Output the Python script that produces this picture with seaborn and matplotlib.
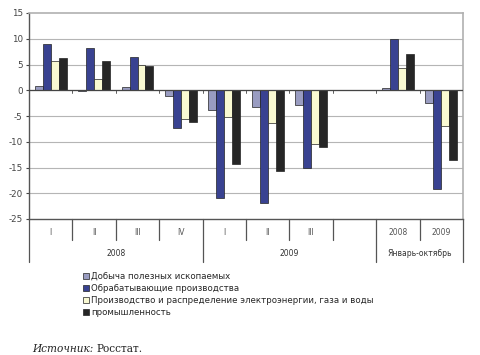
import matplotlib
matplotlib.use("Agg")
import matplotlib.pyplot as plt
import matplotlib.transforms as mtransforms
import seaborn as sns
import pandas as pd

keys = ["2008-I", "2008-II", "2008-III", "2008-IV", "2009-I", "2009-II", "2009-III",
        "gap", "JO-2008", "JO-2009"]
quarter_labels = ["I", "II", "III", "IV", "I", "II", "III", "", "2008", "2009"]
series_names = ["Добыча полезных ископаемых",
                "Обрабатывающие производства",
                "Производство и распределение электроэнергии, газа и воды",
                "промышленность"]
mining = [0.8, -0.2, 0.7, -1.1, -3.8, -3.2, -2.9, 0, 0.5, -2.4]
manufacturing = [8.9, 8.2, 6.5, -7.3, -20.9, -21.8, -15.1, 0, 10.0, -19.1]
utilities = [5.6, 2.1, 5.0, -5.5, -5.1, -6.3, -10.5, 0, 4.3, -6.9]
industry = [6.2, 5.6, 4.8, -6.2, -14.4, -15.6, -11.0, 0, 7.1, -13.5]
groups = [("2008", 0, 4), ("2009", 4, 8), ("Январь-октябрь", 8, 10)]
colors = ["#9296C8", "#2A37A0", "#FFFFCC", "#262626"]

rows = []
for name, vals in zip(series_names, [mining, manufacturing, utilities, industry]):
    for k, v in zip(keys, vals):
        rows.append({"cat": k, "series": name, "value": v})
df = pd.DataFrame(rows)

sns.set_style("white")
plt.rcParams['font.family'] = ['DejaVu Sans']

fig = plt.figure(figsize=(4.8, 3.55), dpi=100)
ax = fig.add_axes([29/480, 1-219/355, (463-29)/480, (219-13)/355])

sns.barplot(data=df, x="cat", y="value", hue="series", order=keys,
            hue_order=series_names, palette=colors, width=0.73,
            edgecolor="#222222", linewidth=0.5, ax=ax, legend=True, errorbar=None,
            zorder=3)

ax.set_ylim(-25, 15)
ax.set_xlim(-0.5, len(keys) - 0.5)
ax.set_yticks(range(-25, 16, 5))
ax.set_yticklabels([str(v) for v in range(-25, 16, 5)], fontsize=6.3, color="#444444")
ax.tick_params(axis="y", length=2.5, width=0.8, color="#444444", pad=2, direction="out", left=True)
ax.set_xticks([])
ax.set_xlabel("")
ax.set_ylabel("")
for yv in range(-20, 15, 5):
    ax.axhline(yv, color="#b5b5b5", lw=0.8, zorder=1)
ax.axhline(0, color="#444444", lw=0.9, zorder=4)
for s in ["top", "right"]:
    ax.spines[s].set_color("#b0b0b0")
    ax.spines[s].set_linewidth(1.2)
ax.spines["left"].set_color("#555555")
ax.spines["left"].set_linewidth(1.0)
ax.spines["bottom"].set_color("#555555")
ax.spines["bottom"].set_linewidth(1.0)

# small ticks on the zero line at category boundaries
for i in range(1, len(keys)):
    ax.plot([i - 0.5, i - 0.5], [0, -0.5], color="#444444", lw=0.6, zorder=4)

# table-like category axis
trans = mtransforms.blended_transform_factory(ax.transData, ax.transAxes)
short_y = -21/206
long_y = -43/206
group_edges = set()
for _, a, b in groups:
    group_edges.add(a)
    group_edges.add(b)
for i in range(len(keys) + 1):
    yb = long_y if i in group_edges else short_y
    ax.plot([i - 0.5, i - 0.5], [0, yb], transform=trans, color="#555555",
            lw=0.9, clip_on=False)
for i, lab in enumerate(quarter_labels):
    ax.text(i, -14/206, lab, transform=trans, ha="center", va="center",
            fontsize=5.5, color="#555555")
for name, a, b in groups:
    ax.text((a + b - 1) / 2, -35/206, name, transform=trans, ha="center",
            va="center", fontsize=5.5, color="#333333")

handles, labels = ax.get_legend_handles_labels()
ax.legend_.remove()
fig.legend(handles, labels, loc="upper left", bbox_to_anchor=(83/480, 1-272/355),
           frameon=False, fontsize=6.2, handlelength=0.7, handleheight=0.7,
           handletextpad=0.2, labelspacing=0.35, borderpad=0, borderaxespad=0)

t1 = fig.text(32/480, 1-349/355, "Источник:", fontsize=7.6, family="DejaVu Serif",
              style="italic", va="center", ha="left", color="#222222")
fig.canvas.draw()
bb = t1.get_window_extent(renderer=fig.canvas.get_renderer())
x2 = (bb.x1 + 3) / fig.bbox.width
fig.text(x2, 1-349/355, "Росстат.", fontsize=7.6, family="DejaVu Serif",
         va="center", ha="left", color="#222222")

fig.savefig("out.png", dpi=100)
